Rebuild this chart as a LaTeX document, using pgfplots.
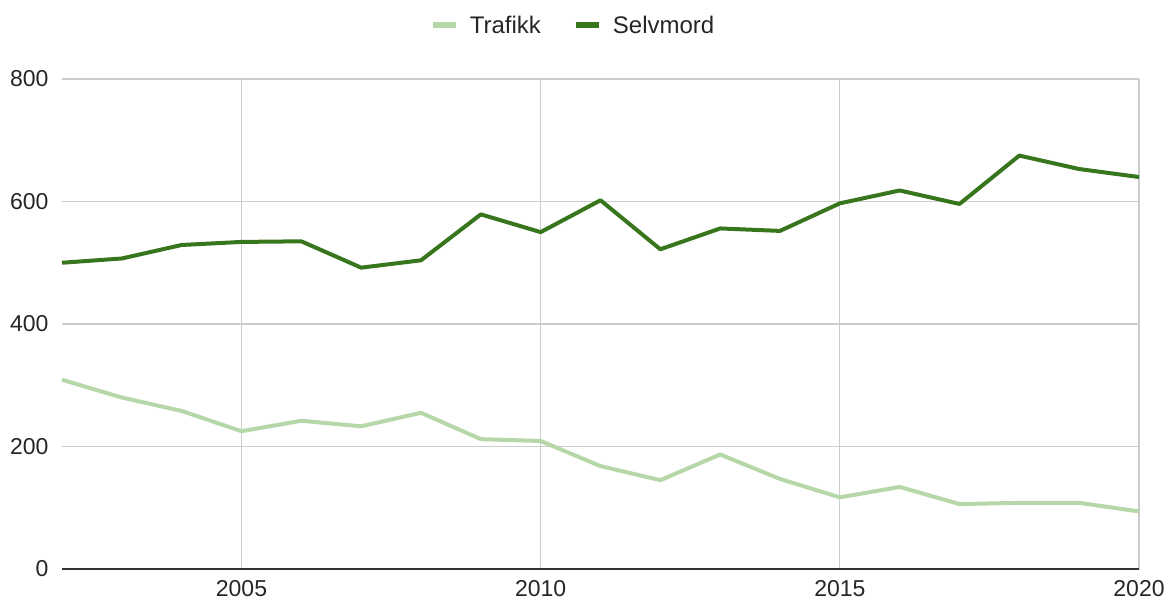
\documentclass[border=0pt]{standalone}
\usepackage{fontspec}
\setmainfont{Liberation Sans}
\usepackage{pgfplots}
\pgfplotsset{compat=1.18}
\definecolor{trafikk}{HTML}{B6D7A8}
\definecolor{selvmord}{HTML}{38761D}
\definecolor{gridgrey}{HTML}{CCCCCC}
\definecolor{zeroline}{HTML}{333333}

\begin{document}
\begin{tikzpicture}[x=1pt,y=1pt]
\useasboundingbox (0,0) rectangle (1169,608);
\begin{axis}[
  at={(62pt,39pt)}, anchor=south west,
  scale only axis,
  width=1077pt, height=490pt,
  xmin=2002, xmax=2020,
  ymin=0, ymax=800,
  axis line style={draw=none},
  xtick={2005,2010,2015,2020},
  ytick={200,400,600,800},
  extra y ticks={0},
  extra y tick style={grid style={zeroline, line width=1.6pt}},
  grid=major,
  grid style={gridgrey, line width=1.2pt},
  major tick length=0pt,
  tick label style={font=\fontsize{23}{27}\selectfont, text=black!85},
  /pgf/number format/assume math mode=true,
  /pgf/number format/1000 sep={},
  xticklabel style={yshift=-8pt},
  yticklabel style={xshift=-10pt},
  legend columns=2,
  legend style={draw=none, fill=none, at={(0.4745,1.11)}, anchor=center,
    font=\fontsize{24}{28}\selectfont, text=black!85,
    /tikz/every even column/.append style={column sep=30pt}},
  legend image code/.code={\draw[line width=6pt,#1] (0pt,0pt) -- (23pt,0pt); \path (33pt,0pt);},
  clip=false,
]
\addplot[trafikk, line width=4pt, line join=round] coordinates {
  (2002,309) (2003,280) (2004,258) (2005,225) (2006,242) (2007,233)
  (2008,255) (2009,212) (2010,209) (2011,168) (2012,145) (2013,187)
  (2014,147) (2015,117) (2016,134) (2017,106) (2018,108) (2019,108)
  (2020,94)
};
\addlegendentry{Trafikk}
\addplot[selvmord, line width=4pt, line join=round] coordinates {
  (2002,500) (2003,507) (2004,529) (2005,534) (2006,535) (2007,492)
  (2008,504) (2009,579) (2010,550) (2011,602) (2012,522) (2013,556)
  (2014,552) (2015,597) (2016,618) (2017,596) (2018,675) (2019,653)
  (2020,640)
};
\addlegendentry{Selvmord}
\end{axis}
\end{tikzpicture}
\end{document}
